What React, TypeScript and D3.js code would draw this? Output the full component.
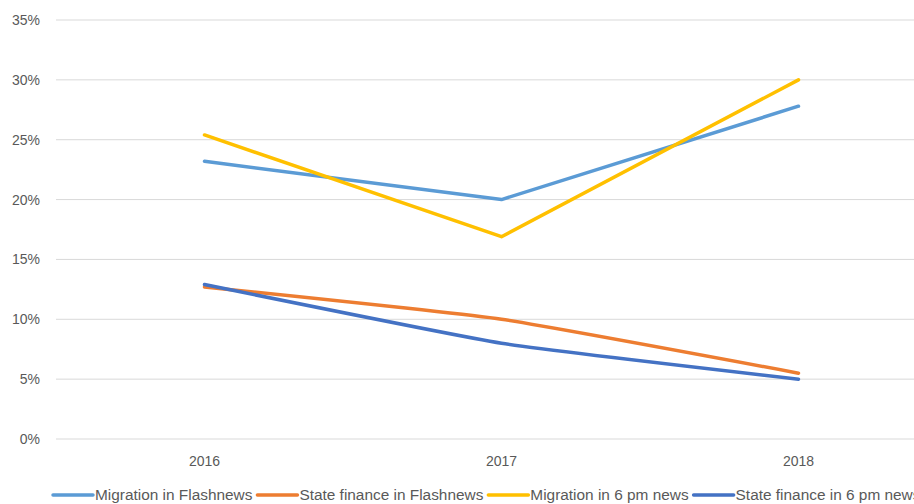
import React, { useEffect, useRef } from 'react';
import * as d3 from 'd3';

const years = ['2016', '2017', '2018'];
const seriesNames = [
  'Migration in Flashnews',
  'State finance in Flashnews',
  'Migration in 6 pm news',
  'State finance in 6 pm news',
];
const migrationFlash = [0.232, 0.2, 0.278];
const financeFlash = [0.127, 0.1, 0.055];
const migration6pm = [0.254, 0.169, 0.3];
const finance6pm = [0.129, 0.08, 0.05];
const yTicks = [0, 0.05, 0.1, 0.15, 0.2, 0.25, 0.3, 0.35];
const colors = ['#5B9BD5', '#ED7D31', '#FFC000', '#4472C4'];
const smoothed = [false, true, false, true];

const App: React.FC = () => {
  const svgRef = useRef<SVGSVGElement | null>(null);

  useEffect(() => {
    if (!svgRef.current) return;
    const svg = d3.select(svgRef.current);
    svg.selectAll('*').remove();

    const width = 914;
    const font = '"Liberation Sans", Arial, sans-serif';
    const values = [migrationFlash, financeFlash, migration6pm, finance6pm];

    const x = d3.scaleBand().domain(years).range([56, 947]);
    const y = d3.scaleLinear().domain([0, 0.35]).range([439, 20]);

    // gridlines
    svg.append('g')
      .selectAll('line')
      .data(yTicks)
      .enter()
      .append('line')
      .attr('x1', 56)
      .attr('x2', width)
      .attr('y1', d => y(d))
      .attr('y2', d => y(d))
      .attr('stroke', '#d9d9d9')
      .attr('stroke-width', 1);

    // y labels
    svg.append('g')
      .selectAll('text')
      .data(yTicks)
      .enter()
      .append('text')
      .attr('x', 40)
      .attr('y', d => y(d) + 5)
      .attr('text-anchor', 'end')
      .attr('font-family', font)
      .attr('font-size', 14)
      .attr('fill', '#595959')
      .text(d => d3.format('.0%')(d));

    // x labels
    svg.append('g')
      .selectAll('text')
      .data(years)
      .enter()
      .append('text')
      .attr('x', d => (x(d) as number) + x.bandwidth() / 2)
      .attr('y', 466)
      .attr('text-anchor', 'middle')
      .attr('font-family', font)
      .attr('font-size', 14)
      .attr('fill', '#595959')
      .text(d => d);

    // lines
    values.forEach((vals, i) => {
      const line = d3.line<number>()
        .x((_, j) => (x(years[j]) as number) + x.bandwidth() / 2)
        .y(d => y(d))
        .curve(smoothed[i] ? d3.curveCardinal.tension(0.6) : d3.curveLinear);
      svg.append('path')
        .datum(vals)
        .attr('d', line)
        .attr('fill', 'none')
        .attr('stroke', colors[i])
        .attr('stroke-width', 3.5)
        .attr('stroke-linejoin', 'round')
        .attr('stroke-linecap', 'round');
    });

    // legend
    let lx = 53;
    const ly = 495;
    seriesNames.forEach((name, i) => {
      svg.append('line')
        .attr('x1', lx)
        .attr('x2', lx + 40)
        .attr('y1', ly)
        .attr('y2', ly)
        .attr('stroke', colors[i])
        .attr('stroke-width', 3.5)
        .attr('stroke-linecap', 'round');
      const t = svg.append('text')
        .attr('x', lx + 42)
        .attr('y', ly + 5)
        .attr('font-family', font)
        .attr('font-size', 15.4)
        .attr('fill', '#595959')
        .text(name);
      const w = (t.node() as SVGTextElement).getComputedTextLength();
      lx += 42 + w + 5;
    });
  }, []);

  return (
    <svg
      ref={svgRef}
      width={914}
      height={504}
      style={{ position: 'absolute', left: 0, top: 0, background: '#fff' }}
    />
  );
};

export default App;
